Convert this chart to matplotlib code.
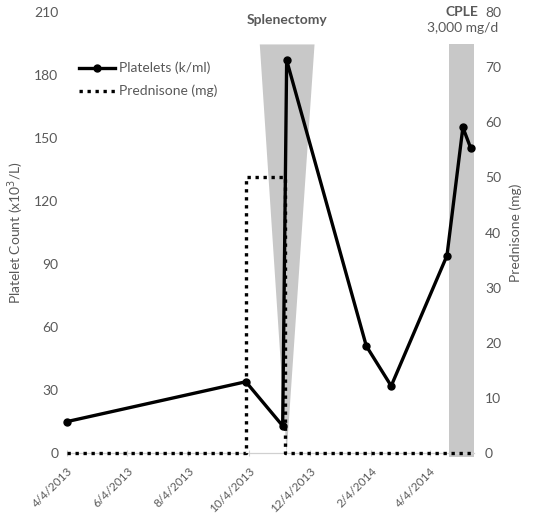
import pandas as pd
import matplotlib
matplotlib.use("Agg")
import matplotlib.pyplot as plt

plt.rcParams["font.family"] = ["Lato", "DejaVu Sans"]

# platelet counts (x10^3/L)
plt_dates = ["2013-04-04", "2013-10-01", "2013-11-07", "2013-11-11", "2014-01-30",
             "2014-02-24", "2014-04-21", "2014-05-07", "2014-05-15"]
plt_values = [15, 34, 13, 187, 51, 32, 94, 155, 145]

# prednisone (mg), step shape
pred_dates = ["2013-04-04", "2013-10-01", "2013-10-01", "2013-11-09", "2013-11-09", "2014-05-15"]
pred_values = [0, 0, 50, 50, 0, 0]

# shaded events
splen_top = ["2013-10-15", "2013-12-09"]
splen_apex = "2013-11-11"
cple_span = ["2014-04-23", "2014-05-18"]
shade_top = 194.5

tick_dates = ["2013-04-04", "2013-06-04", "2013-08-04", "2013-10-04",
              "2013-12-04", "2014-02-04", "2014-04-04"]
x_range = ["2013-04-04", "2014-05-18"]

pd_x = pd.to_datetime(plt_dates)
pr_x = pd.to_datetime(pred_dates)

grey = "#595959"

fig = plt.figure(figsize=(5.33, 5.15), dpi=100)
ax = fig.add_axes([0.125, 0.12, 0.764, 0.857])
ax2 = ax.twinx()

# shading
st = pd.to_datetime(splen_top)
ax.fill([st[0], st[1], pd.to_datetime(splen_apex)], [shade_top, shade_top, 0],
        color="#c8c8c8", lw=0, zorder=0)
cs = pd.to_datetime(cple_span)
ax.fill([cs[0], cs[1], cs[1], cs[0]], [-2, -2, shade_top, shade_top],
        color="#c8c8c8", lw=0, zorder=0, clip_on=False)

l1, = ax.plot(pd_x, plt_values, color="black", lw=2.4, marker="o", ms=5,
              label="Platelets (k/ml)", zorder=3, clip_on=False)
l2, = ax2.plot(pr_x, pred_values, color="black", lw=2.4, ls=(0, (1, 1.4)),
               label="Prednisone (mg)", zorder=3, clip_on=False)

ax.set_xlim(pd.to_datetime(x_range))
ax.set_ylim(0, 210)
ax2.set_ylim(0, 80)
ax.set_yticks(range(0, 211, 30))
ax2.set_yticks(range(0, 81, 10))

ax.set_xticks(pd.to_datetime(tick_dates))
ax.set_xticklabels([f"{d.month}/{d.day}/{d.year}" for d in pd.to_datetime(tick_dates)],
                   rotation=45, ha="right", rotation_mode="anchor")

for a in (ax, ax2):
    for s in ["top", "left", "right"]:
        a.spines[s].set_visible(False)
    a.spines["bottom"].set_color("#d0d0d0")
    a.tick_params(axis="y", length=0, colors=grey, labelsize=10)
ax.tick_params(axis="x", colors="#d0d0d0", labelcolor=grey, labelsize=8.5, length=4,
               direction="inout", pad=7)
ax.tick_params(axis="y", pad=6)
ax2.tick_params(axis="y", pad=8)

ax.set_ylabel("Platelet Count (x10$^3$/L)", color=grey, fontsize=10, labelpad=6)
ax2.set_ylabel("Prednisone (mg)", color=grey, fontsize=10, labelpad=6)

ax.text(pd.to_datetime(splen_apex), 206, "Splenectomy", ha="center", va="center",
        fontsize=10, fontweight="bold", color=grey)
ax.text(pd.to_datetime("2014-05-06"), 210, "CPLE", ha="center", va="center",
        fontsize=10, fontweight="bold", color=grey)
ax.text(pd.to_datetime("2014-05-07"), 202.3, "3,000 mg/d", ha="center", va="center",
        fontsize=10, color=grey)

ax.legend(handles=[l1, l2], loc="upper left", bbox_to_anchor=(0.0, 0.915),
          frameon=False, fontsize=10, labelcolor=grey, handlelength=2.6,
          handletextpad=0.3, labelspacing=0.75)

fig.savefig("out.png", dpi=100)
